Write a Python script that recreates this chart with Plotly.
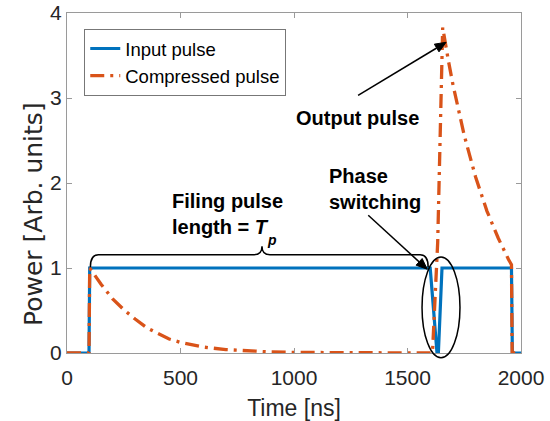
import math
import plotly.graph_objects as go

# Input pulse: flat-top pulse with a short phase-switching dip
time_input = [0, 97, 100, 1600, 1630, 1636, 1652, 1958, 1962, 2000]
power_input = [0, 0, 1, 1, 0, 0, 1, 1, 0, 0]

# Compressed (output) pulse
time_compressed = [0, 97, 100, 150, 200, 250, 300, 350, 400, 450, 500, 600, 700,
                   800, 900, 1000, 1200, 1400, 1610, 1633, 1644, 1655, 1680, 1700,
                   1750, 1800, 1850, 1900, 1945, 1958, 1961, 2000]
power_compressed = [0, 0, 1.0, 0.81, 0.64, 0.51, 0.40, 0.30, 0.23, 0.165, 0.125,
                    0.07, 0.04, 0.022, 0.012, 0.007, 0.002, 0.0, 0.0, 1.3, 2.7,
                    3.83, 3.44, 3.16, 2.56, 2.07, 1.67, 1.35, 1.1, 1.04, 0, 0]

x_ticks = [0, 500, 1000, 1500, 2000]
y_ticks = [0, 1, 2, 3, 4]

BLUE = "#0072BD"
ORANGE = "#D95319"
AXIS_GRAY = "#9a9a9a"
TEXT = "#262626"
FONT = "Liberation Sans, Arial, sans-serif"

fig = go.Figure()
fig.add_trace(go.Scatter(
    x=time_input, y=power_input, mode="lines", name="Input pulse",
    line=dict(color=BLUE, width=3.2),
))
fig.add_trace(go.Scatter(
    x=time_compressed, y=power_compressed, mode="lines", name="Compressed pulse",
    line=dict(color=ORANGE, width=3.3, dash="14px,6px,3px,6px"),
))

# Curly brace spanning the filling pulse
bx0, bx1, bxm = 103, 1591, 859
by0, byh, byt = 1.01, 1.156, 1.257
rx = 35
brace = (f"M {bx0},{by0} Q {bx0},{byh} {bx0 + rx},{byh} "
         f"L {bxm - rx},{byh} Q {bxm},{byh} {bxm},{byt} "
         f"Q {bxm},{byh} {bxm + rx},{byh} "
         f"L {bx1 - rx},{byh} Q {bx1},{byh} {bx1},{by0}")
fig.add_shape(type="path", path=brace, xref="x", yref="y",
              line=dict(color="black", width=1.5))

# Ellipse around the phase-switching dip
fig.add_shape(type="circle", xref="paper", yref="paper",
              x0=0.782, x1=0.8656, y0=-0.014, y1=0.282,
              line=dict(color="black", width=1.5))


def add_arrow(head_x, head_y, tail_dx, tail_dy, head_len=11, head_half=4.5):
    """Arrow ending at a data point; tail offset given in pixels (y up)."""
    length = math.hypot(tail_dx, tail_dy)
    ux, uy = -tail_dx / length, -tail_dy / length
    bx, by = -head_len * ux, -head_len * uy
    nx, ny = -uy, ux
    common = dict(xref="x", yref="y", xsizemode="pixel", ysizemode="pixel",
                  xanchor=head_x, yanchor=head_y)
    fig.add_shape(type="path", path=f"M {tail_dx},{tail_dy} L {bx:.2f},{by:.2f}",
                  line=dict(color="black", width=1.5), **common)
    tri = (f"M 0,0 L {bx + head_half * nx:.2f},{by + head_half * ny:.2f} "
           f"L {bx - head_half * nx:.2f},{by - head_half * ny:.2f} Z")
    fig.add_shape(type="path", path=tri, fillcolor="black",
                  line=dict(color="black", width=1), **common)


add_arrow(1670, 3.655, -88, -53)
add_arrow(1587, 0.985, -59, 54)

ann_font = dict(family=FONT, size=20, color="black")
fig.add_annotation(x=1279, y=2.76, xref="x", yref="y", text="<b>Output pulse</b>",
                   showarrow=False, xanchor="center", yanchor="middle", font=ann_font)
fig.add_annotation(x=1145, y=1.93, xref="x", yref="y",
                   text="<b>Phase<br>switching</b>", align="left",
                   showarrow=False, xanchor="left", yanchor="middle", font=ann_font)
fig.add_annotation(x=452, y=1.63, xref="x", yref="y",
                   text="<b>Filing pulse<br>length = <i>T</i></b>",
                   align="left", showarrow=False, xanchor="left", yanchor="middle",
                   font=ann_font)
# subscript of T_p
fig.add_annotation(x=0.4355, y=0.332, xref="paper", yref="paper",
                   text="<b><i>p</i></b>", showarrow=False,
                   xanchor="left", yanchor="middle",
                   font=dict(family=FONT, size=14, color="black"))

# Vertical axis label
fig.add_annotation(x=-0.074, y=0.41, xref="paper", yref="paper",
                   text="Power [Arb. units]", textangle=-90, showarrow=False,
                   xanchor="center", yanchor="middle",
                   font=dict(family="DejaVu Sans, sans-serif", size=25, color=TEXT))

axis_common = dict(
    showline=True, linecolor=AXIS_GRAY, linewidth=1, mirror="ticks",
    ticks="inside", ticklen=5, tickcolor=AXIS_GRAY, tickwidth=1,
    showgrid=False, zeroline=False, automargin=False,
    tickfont=dict(family=FONT, size=21, color=TEXT),
)

fig.update_layout(
    width=550, height=421,
    margin=dict(l=67, r=29, t=13, b=68, autoexpand=False),
    paper_bgcolor="white", plot_bgcolor="white",
    font=dict(family=FONT, color=TEXT),
    xaxis=dict(range=[0, 2000], tickvals=x_ticks, ticklabelstandoff=6,
               title=dict(text="Time [ns]", font=dict(family=FONT, size=23, color=TEXT),
                          standoff=12),
               **axis_common),
    yaxis=dict(range=[0, 4], tickvals=y_ticks, **axis_common),
    legend=dict(x=0.038, y=0.953, xanchor="left", yanchor="top",
                bgcolor="white", bordercolor="#777777", borderwidth=1,
                font=dict(family=FONT, size=18.5, color="black"),
                itemwidth=30, tracegroupgap=0),
    showlegend=True,
)

fig.write_html("out.html")
